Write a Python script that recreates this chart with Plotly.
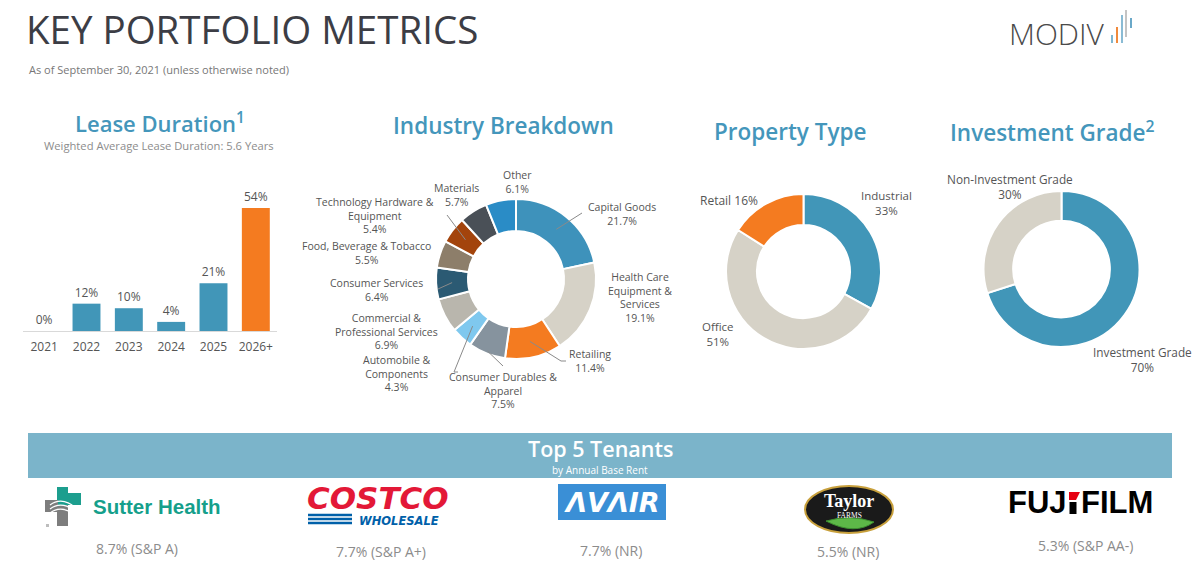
import math
import plotly.graph_objects as go

W, H = 1201, 570

# ---------------- data ----------------
years = ["2021", "2022", "2023", "2024", "2025", "2026+"]
lease_pct = [0, 12, 10, 4, 21, 54]

industries = ["Capital Goods", "Health Care Equipment & Services", "Retailing",
              "Consumer Durables & Apparel", "Automobile & Components",
              "Commercial & Professional Services", "Consumer Services",
              "Food, Beverage & Tobacco", "Technology Hardware & Equipment",
              "Materials", "Other"]
industry_pct = [21.7, 19.1, 11.4, 7.5, 4.3, 6.9, 6.4, 5.5, 5.4, 5.7, 6.1]
industry_text = [["Capital Goods"], ["Health Care", "Equipment &", "Services"], ["Retailing"],
                 ["Consumer Durables &", "Apparel"], ["Automobile &", "Components"],
                 ["Commercial &", "Professional Services"], ["Consumer Services"],
                 ["Food, Beverage & Tobacco"], ["Technology Hardware &", "Equipment"],
                 ["Materials"], ["Other"]]

property_types = ["Industrial", "Office", "Retail"]
property_pct = [33, 51, 16]

grade_labels = ["Investment Grade", "Non-Investment Grade"]
grade_pct = [70, 30]

tenants = ["Sutter Health", "Costco Wholesale", "AvAir", "Taylor Farms", "Fujifilm"]
tenant_pct = [8.7, 7.7, 7.7, 5.5, 5.3]
tenant_rating = ["S&P A", "S&P A+", "NR", "NR", "S&P AA-"]

# ---------------- styles ----------------
BLUE = "#4196b8"
ORANGE = "#f47b20"
BEIGE = "#d6d2c7"
TEAL_T = "#4496bb"
DARK = "#3c3d45"
GREY_T = "#555555"
FONT = "Open Sans"

lease_colors = [BLUE] * 5 + [ORANGE]
industry_colors = ["#3e92bb", BEIGE, ORANGE, "#86939e", "#7fc8ee", "#b9b6ad",
                   "#2b5a73", "#8d7e6a", "#a3440c", "#4a5057", "#2a8cc6"]
property_colors = [BLUE, BEIGE, ORANGE]
grade_colors = [BLUE, BEIGE]


def X(px):
    return px / W


def Y(py):
    return 1 - py / H


fig = go.Figure()

# ---------------- Lease duration bars ----------------
base_y, top_y, top_val = 331, 208, 54
ppu = (base_y - top_y) / top_val
fig.add_trace(go.Bar(
    x=years, y=lease_pct, marker=dict(color=lease_colors, line=dict(width=0)),
    width=0.66, texttemplate="%{y}%", textposition="outside", cliponaxis=False,
    textfont=dict(size=12, color=GREY_T, family=FONT), showlegend=False,
    hoverinfo="x+y"))
fig.update_layout(
    xaxis=dict(domain=[X(23), X(277)], type="category", showline=True,
               linecolor="#d9d9d9", linewidth=1, showgrid=False, zeroline=False,
               ticks="", tickfont=dict(size=12, color=GREY_T, family=FONT),
               ticklabelstandoff=5, fixedrange=True),
    yaxis=dict(domain=[Y(base_y), Y(base_y - 60 * ppu)], range=[0, 60],
               visible=False, fixedrange=True),
)


# ---------------- donuts ----------------
def domain_for(cx, cy, r):
    return dict(x=[X(cx - r), X(cx + r)], y=[Y(cy + r), Y(cy - r)])


ind_c = (516, 279, 80)
prop_c = (803.5, 271.5, 77.5)
grade_c = (1061.5, 269, 78)

fig.add_trace(go.Pie(values=industry_pct, labels=industries, sort=False,
                     direction="clockwise", rotation=0, hole=0.6,
                     marker=dict(colors=industry_colors, line=dict(color="white", width=2)),
                     textinfo="none", domain=domain_for(*ind_c), showlegend=False))
fig.add_trace(go.Pie(values=property_pct, labels=property_types, sort=False,
                     direction="clockwise", rotation=0, hole=0.6,
                     marker=dict(colors=property_colors, line=dict(color="white", width=2)),
                     textinfo="none", domain=domain_for(*prop_c), showlegend=False))
fig.add_trace(go.Pie(values=grade_pct, labels=grade_labels, sort=False,
                     direction="clockwise", rotation=0, hole=0.62,
                     marker=dict(colors=grade_colors, line=dict(color="white", width=2)),
                     textinfo="none", domain=domain_for(*grade_c), showlegend=False))

annotations = []
shapes = []


def txt(x, y, text, size=10, color=GREY_T, xanchor="center", yanchor="middle",
        family=FONT, weight=None, style=None, align="center"):
    f = dict(size=size, color=color, family=family)
    if weight:
        f["weight"] = weight
    if style:
        f["style"] = style
    annotations.append(dict(x=X(x), y=Y(y), xref="paper", yref="paper", text=text,
                            showarrow=False, xanchor=xanchor, yanchor=yanchor,
                            font=f, align=align, borderpad=0))


def line(x0, y0, x1, y1, color="#8a8a8a", width=1):
    shapes.append(dict(type="line", xref="paper", yref="paper", x0=X(x0), y0=Y(y0),
                       x1=X(x1), y1=Y(y1), line=dict(color=color, width=width)))


def rect(x0, y0, x1, y1, color, lc=None, lw=0):
    shapes.append(dict(type="rect", xref="paper", yref="paper", x0=X(x0), y0=Y(y0),
                       x1=X(x1), y1=Y(y1), fillcolor=color,
                       line=dict(color=lc or color, width=lw)))


def ring_point(center, values, i, frac):
    cx, cy, r = center
    total = sum(values)
    mid = (sum(values[:i]) + values[i] / 2) / total * 2 * math.pi
    return cx + r * frac * math.sin(mid), cy - r * frac * math.cos(mid)


# industry labels (label block centers, in pixels)
industry_label_pos = [(622, 214), (640, 297), (590, 361), (503, 390), (397, 373),
                      (386, 331), (376, 290), (366, 253), (375, 215), (456, 195),
                      (517, 182)]
for parts, v, (lx, ly) in zip(industry_text, industry_pct, industry_label_pos):
    txt(lx, ly, "<br>".join(parts + [f"{v:.1f}%"]), size=10.5)

# leader lines: slice index -> (end point, start radius fraction)
leaders = {0: ((582, 213), 0.8), 2: ((561, 361), 0.8), 3: ((503, 366), 0.97),
           4: ((454, 372), 0.8), 6: ((438, 289), 0.8), 8: ((447, 215), 0.8)}
for i, ((ex, ey), fr) in leaders.items():
    sx, sy = ring_point(ind_c, industry_pct, i, fr)
    line(sx, sy, ex, ey)
line(561, 361, 566, 361)
line(454, 372, 458, 372)

# property labels
txt(886, 203, f"{property_types[0]}<br>{property_pct[0]}%", size=11.5)
txt(718, 334, f"{property_types[1]}<br>{property_pct[1]}%", size=11.5)
txt(729, 200, f"{property_types[2]} {property_pct[2]}%", size=12)

# grade labels
txt(1142, 359, f"{grade_labels[0]}<br>{grade_pct[0]}%", size=11.8)
txt(1010, 186, f"{grade_labels[1]}<br>{grade_pct[1]}%", size=11.8)

# ---------------- titles ----------------
txt(25, 29, "KEY PORTFOLIO METRICS", size=38.5, color=DARK, xanchor="left", weight=500)
txt(28, 69, "As of September 30, 2021 (unless otherwise noted)", size=11,
    color="#777777", xanchor="left")
txt(160, 122, "Lease Duration<sup>1</sup>", size=22, color=TEAL_T, weight=600)
txt(159, 145.5, "Weighted Average Lease Duration: 5.6 Years", size=11.2, color="#8c8c8c")
txt(503, 125, "Industry Breakdown", size=22.5, color=TEAL_T, weight=600)
txt(790, 131, "Property Type", size=22.5, color=TEAL_T, weight=600)
txt(1052, 131, "Investment Grade<sup>2</sup>", size=22.5, color=TEAL_T, weight=600)

# MODIV logo
txt(1057, 34, "MODIV", size=30, color="#4a4a4a", weight=300)
for x0, y0, y1, c in [(1112, 35, 43, "#7fb6d0"), (1117, 27, 43, "#f08a3c"),
                      (1122, 15, 43, "#8abbd4"), (1126, 10, 37, "#c4c4c4"),
                      (1131, 18, 28, "#6aa8c8")]:
    line(x0, y0, x0, y1, color=c, width=2)

# ---------------- Top 5 tenants band ----------------
rect(28, 433, 1172, 478, "#7bb4ca")
txt(600, 448, "Top 5 Tenants", size=21.5, color="white", weight=600)
txt(600, 469.5, "by Annual Base Rent", size=10, color="white")

tenant_x = [137, 381, 611, 848, 1085]
tenant_y = [548, 551, 550, 551, 545]
for tx, ty, p, r in zip(tenant_x, tenant_y, tenant_pct, tenant_rating):
    txt(tx, ty, f"{p:.1f}% ({r})", size=14, color="#8c8c8c")

# Sutter Health logo
rect(57, 487, 68, 502, "#1c9e8e")
rect(57, 493, 81, 505, "#1c9e8e")
rect(45, 500, 58, 512, "#7d7d7d")
rect(57, 505, 68, 526, "#7d7d7d")
for k in range(3):
    shapes.append(dict(type="path", xref="paper", yref="paper",
                       path=f"M {X(50)},{Y(505 + 4*k)} Q {X(62)},{Y(496 + 4*k)} {X(76)},{Y(508 + 4*k)}",
                       line=dict(color="white", width=1.2)))
rect(46, 524, 49, 527, "#bdbdbd")
txt(92, 506, "Sutter Health", size=20.5, color="#159f8b", xanchor="left",
    family="Liberation Sans", weight="bold")

# Costco logo
txt(378, 498, "COSTCO", size=31, color="#e31837", family="DejaVu Sans",
    weight="bold", style="italic")
for yy in (515, 519, 523):
    line(308, yy, 352, yy, color="#0060a9", width=2.5)
txt(399, 520.5, "WHOLESALE", size=11.5, color="#0060a9", family="DejaVu Sans",
    weight="bold", style="italic")

# AvAir logo
rect(558, 484, 666, 520, "#3a8fd6")
txt(612, 502, "ΛVΛIR", size=27, color="white", family="DejaVu Sans",
    weight="bold", style="italic")

# Taylor Farms logo
shapes.append(dict(type="circle", xref="paper", yref="paper", x0=X(805), y0=Y(486),
                   x1=X(893), y1=Y(533), fillcolor="#1a1a1a",
                   line=dict(color="#c8a03c", width=2)))
shapes.append(dict(type="path", xref="paper", yref="paper",
                   path=f"M {X(826)},{Y(521)} Q {X(850)},{Y(514)} {X(874)},{Y(522)} "
                        f"Q {X(855)},{Y(536)} {X(826)},{Y(521)} Z",
                   fillcolor="#5db848", line=dict(color="#3d8f30", width=1)))
txt(849, 501, "Taylor", size=18, color="white", family="Liberation Serif", weight="bold")
txt(849, 515.5, "FARMS", size=7.5, color="white", family="Liberation Serif")

# Fujifilm logo
txt(1068, 502, "FUJ", size=31, color="black", family="Liberation Sans",
    weight="bold", xanchor="right")
txt(1080, 502, "FILM", size=31, color="black", family="Liberation Sans",
    weight="bold", xanchor="left")
shapes.append(dict(type="path", xref="paper", yref="paper",
                   path=f"M {X(1069)},{Y(492)} L {X(1080)},{Y(492)} L {X(1076)},{Y(500)} "
                        f"L {X(1069)},{Y(500)} Z",
                   fillcolor="#e60012", line=dict(width=0)))
rect(1069.5, 502, 1076.5, 514, "black")

fig.update_layout(
    width=W, height=H, autosize=False,
    margin=dict(l=0, r=0, t=0, b=0),
    paper_bgcolor="white", plot_bgcolor="white",
    font=dict(family=FONT, color=GREY_T),
    annotations=annotations, shapes=shapes,
    bargap=0.34,
)

fig.write_html("out.html", config={"displayModeBar": False},
               post_script="document.body.style.margin='0';document.body.style.overflow='hidden';")
